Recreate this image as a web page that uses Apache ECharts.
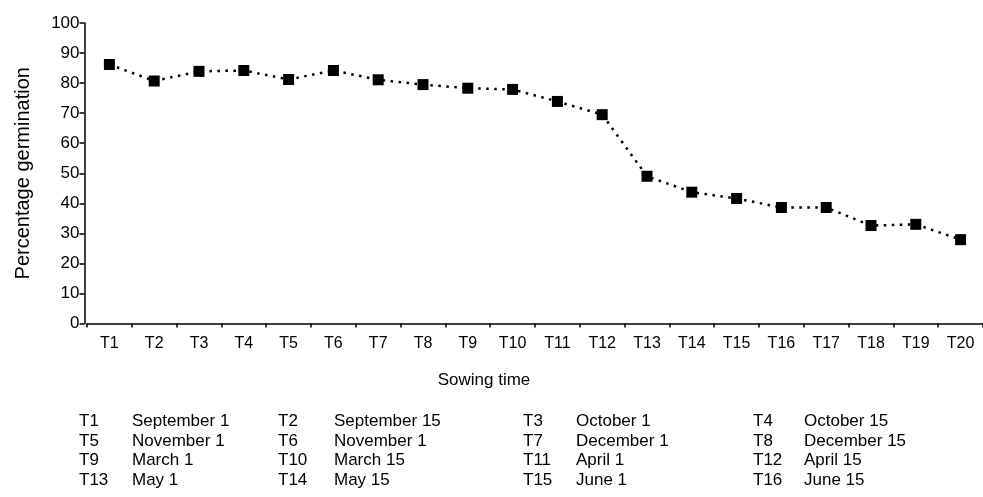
<!DOCTYPE html>
<html>
<head>
<meta charset="utf-8">
<script src="https://cdn.jsdelivr.net/npm/echarts@6/dist/echarts.min.js"></script>
<style>html,body{margin:0;padding:0;background:#fff}#c{width:983px;height:497px}</style>
</head>
<body>
<div id="c"></div>
<script>
var categories = ['T1','T2','T3','T4','T5','T6','T7','T8','T9','T10','T11','T12','T13','T14','T15','T16','T17','T18','T19','T20'];
var germination = [86.2, 80.7, 83.9, 84.2, 81.2, 84.2, 81.1, 79.5, 78.3, 77.9, 73.9, 69.5, 49.0, 43.7, 41.6, 38.6, 38.6, 32.6, 33.0, 27.9];
var yTicks = [0, 10, 20, 30, 40, 50, 60, 70, 80, 90, 100];
var legendCodes = ['T1','T2','T3','T4','T5','T6','T7','T8','T9','T10','T11','T12','T13','T14','T15','T16'];
var legendDates = ['September 1','September 15','October 1','October 15','November 1','November 1','December 1','December 15','March 1','March 15','April 1','April 15','May 1','May 15','June 1','June 15'];

var FONT = '"Liberation Sans", Arial, sans-serif';
var colCodeX = [79, 278, 523, 753];
var colDateX = [132, 334, 576, 804];
var rowY = [421, 441, 460.5, 480];

var graphics = [];
legendCodes.forEach(function (code, i) {
  var r = Math.floor(i / 4), c = i % 4;
  graphics.push({type: 'text', x: colCodeX[c], y: rowY[r],
    style: {text: code, font: '17px ' + FONT, fill: '#000', textVerticalAlign: 'middle'}});
  graphics.push({type: 'text', x: colDateX[c], y: rowY[r],
    style: {text: legendDates[i], font: '17px ' + FONT, fill: '#000', textVerticalAlign: 'middle'}});
});
graphics.push({type: 'text', x: 484, y: 380,
  style: {text: 'Sowing time', font: '17px ' + FONT, fill: '#000', textAlign: 'center', textVerticalAlign: 'middle'}});

var chart = echarts.init(document.getElementById('c'), null, {renderer: 'canvas'});
chart.setOption({
  animation: false,
  backgroundColor: '#fff',
  grid: {left: 87, right: -3, top: 23, bottom: 173.5, containLabel: false},
  xAxis: {
    type: 'category',
    data: categories,
    boundaryGap: true,
    axisLine: {lineStyle: {color: '#000', width: 1.5}},
    axisTick: {show: true, length: 4, lineStyle: {color: '#000', width: 1.5}},
    axisLabel: {color: '#000', fontFamily: FONT, fontSize: 16, margin: 12, interval: 0}
  },
  yAxis: {
    type: 'value',
    min: 0, max: 100, interval: 10,
    offset: 2.5,
    name: 'Percentage germination',
    nameLocation: 'middle',
    nameGap: 51,
    nameTextStyle: {color: '#000', fontFamily: FONT, fontSize: 20},
    splitLine: {show: false},
    axisLine: {show: true, lineStyle: {color: '#000', width: 1.5}},
    axisTick: {show: true, length: 5, lineStyle: {color: '#000', width: 1.5}},
    axisLabel: {color: '#000', fontFamily: FONT, fontSize: 17, margin: 5,
      formatter: function (v) { return yTicks.indexOf(v) >= 0 ? String(v) : ''; }}
  },
  series: [{
    type: 'line',
    data: germination,
    symbol: 'rect',
    symbolSize: 11,
    itemStyle: {color: '#000'},
    lineStyle: {color: '#000', width: 2.5, type: [2.5, 5.5]},
    z: 3
  }],
  graphic: graphics
});
</script>
</body>
</html>
